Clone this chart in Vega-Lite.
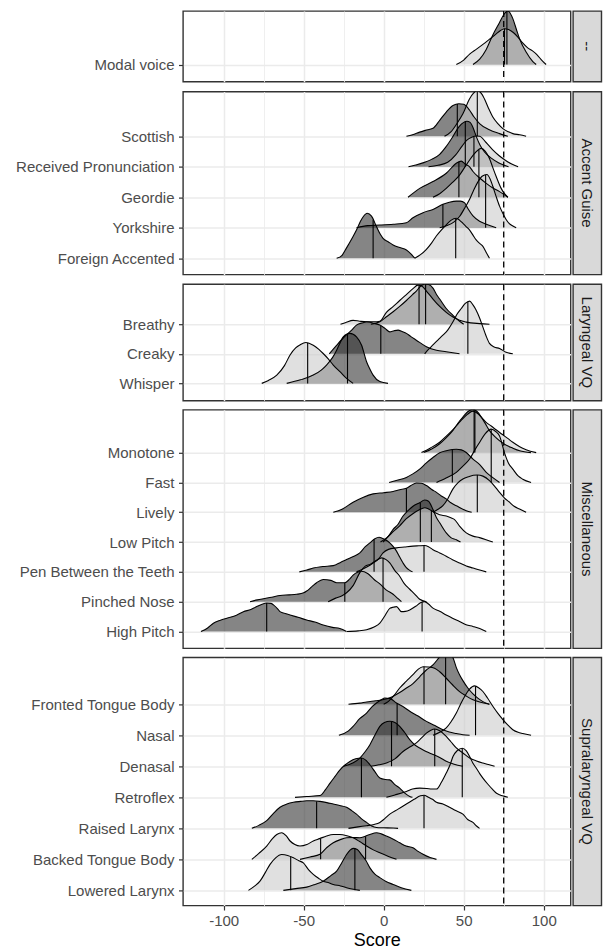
{
"$schema": "https://vega.github.io/schema/vega-lite/v6.json",
"padding": {"left": 14, "right": 4, "top": 9, "bottom": 2},
"columns": 2,
"spacing": {"row": 5.6, "column": 0},
"align": "each",
"datasets": {
"modal": [
{"label":"Modal voice","grp":"A","score":55.8,"dens":0},{"label":"Modal voice","grp":"A","score":60,"dens":0.18},{"label":"Modal voice","grp":"A","score":64,"dens":0.5},{"label":"Modal voice","grp":"A","score":68.2,"dens":1.0},{"label":"Modal voice","grp":"A","score":72.4,"dens":1.42},{"label":"Modal voice","grp":"A","score":75,"dens":1.68},{"label":"Modal voice","grp":"A","score":77.6,"dens":1.81},{"label":"Modal voice","grp":"A","score":80.7,"dens":1.55},{"label":"Modal voice","grp":"A","score":82.8,"dens":1.21},{"label":"Modal voice","grp":"A","score":84.9,"dens":0.87},{"label":"Modal voice","grp":"A","score":89,"dens":0.42},{"label":"Modal voice","grp":"A","score":93.2,"dens":0.1},{"label":"Modal voice","grp":"A","score":95.3,"dens":0},
{"label":"Modal voice","grp":"B","score":45.4,"dens":0},{"label":"Modal voice","grp":"B","score":50,"dens":0.15},{"label":"Modal voice","grp":"B","score":53.7,"dens":0.35},{"label":"Modal voice","grp":"B","score":58,"dens":0.52},{"label":"Modal voice","grp":"B","score":62,"dens":0.68},{"label":"Modal voice","grp":"B","score":66,"dens":0.85},{"label":"Modal voice","grp":"B","score":70,"dens":1.02},{"label":"Modal voice","grp":"B","score":73,"dens":1.15},{"label":"Modal voice","grp":"B","score":75.5,"dens":1.21},{"label":"Modal voice","grp":"B","score":78,"dens":1.18},{"label":"Modal voice","grp":"B","score":81,"dens":1.08},{"label":"Modal voice","grp":"B","score":84,"dens":0.92},{"label":"Modal voice","grp":"B","score":87,"dens":0.72},{"label":"Modal voice","grp":"B","score":90,"dens":0.56},{"label":"Modal voice","grp":"B","score":93,"dens":0.46},{"label":"Modal voice","grp":"B","score":96,"dens":0.32},{"label":"Modal voice","grp":"B","score":99,"dens":0.13},{"label":"Modal voice","grp":"B","score":101.5,"dens":0}
],
"modal_med": [
{"label":"Modal voice","grp":"A","score":77.0,"dens":1.8},{"label":"Modal voice","grp":"B","score":75.5,"dens":1.21}
],
"accent": [
{"label":"Scottish","grp":"A","score":14.2,"dens":0},{"label":"Scottish","grp":"A","score":18,"dens":0.05},{"label":"Scottish","grp":"A","score":22.5,"dens":0.14},{"label":"Scottish","grp":"A","score":26,"dens":0.2},{"label":"Scottish","grp":"A","score":30.8,"dens":0.27},{"label":"Scottish","grp":"A","score":35,"dens":0.54},{"label":"Scottish","grp":"A","score":39.1,"dens":0.82},{"label":"Scottish","grp":"A","score":43.3,"dens":1.04},{"label":"Scottish","grp":"A","score":47,"dens":1.1},{"label":"Scottish","grp":"A","score":50,"dens":1.08},{"label":"Scottish","grp":"A","score":53.7,"dens":0.88},{"label":"Scottish","grp":"A","score":56.5,"dens":0.65},{"label":"Scottish","grp":"A","score":59.9,"dens":0.43},{"label":"Scottish","grp":"A","score":66,"dens":0.22},{"label":"Scottish","grp":"A","score":72.4,"dens":0.09},{"label":"Scottish","grp":"A","score":77.6,"dens":0},
{"label":"Scottish","grp":"B","score":38,"dens":0},{"label":"Scottish","grp":"B","score":42,"dens":0.15},{"label":"Scottish","grp":"B","score":46,"dens":0.45},{"label":"Scottish","grp":"B","score":49.5,"dens":0.76},{"label":"Scottish","grp":"B","score":53.7,"dens":1.27},{"label":"Scottish","grp":"B","score":56,"dens":1.45},{"label":"Scottish","grp":"B","score":58.5,"dens":1.53},{"label":"Scottish","grp":"B","score":61,"dens":1.45},{"label":"Scottish","grp":"B","score":63,"dens":1.26},{"label":"Scottish","grp":"B","score":65.5,"dens":0.95},{"label":"Scottish","grp":"B","score":68.2,"dens":0.65},{"label":"Scottish","grp":"B","score":71.5,"dens":0.42},{"label":"Scottish","grp":"B","score":74.5,"dens":0.26},{"label":"Scottish","grp":"B","score":78,"dens":0.15},{"label":"Scottish","grp":"B","score":80.7,"dens":0.09},{"label":"Scottish","grp":"B","score":85,"dens":0.05},{"label":"Scottish","grp":"B","score":89,"dens":0},
{"label":"Received Pronunciation","grp":"A","score":15.5,"dens":0},{"label":"Received Pronunciation","grp":"A","score":20,"dens":0.06},{"label":"Received Pronunciation","grp":"A","score":25,"dens":0.14},{"label":"Received Pronunciation","grp":"A","score":30,"dens":0.25},{"label":"Received Pronunciation","grp":"A","score":35,"dens":0.42},{"label":"Received Pronunciation","grp":"A","score":39,"dens":0.68},{"label":"Received Pronunciation","grp":"A","score":43,"dens":1.0},{"label":"Received Pronunciation","grp":"A","score":47,"dens":1.35},{"label":"Received Pronunciation","grp":"A","score":50,"dens":1.5},{"label":"Received Pronunciation","grp":"A","score":52,"dens":1.54},{"label":"Received Pronunciation","grp":"A","score":54,"dens":1.5},{"label":"Received Pronunciation","grp":"A","score":56,"dens":1.3},{"label":"Received Pronunciation","grp":"A","score":58,"dens":1.0},{"label":"Received Pronunciation","grp":"A","score":60,"dens":0.75},{"label":"Received Pronunciation","grp":"A","score":63,"dens":0.5},{"label":"Received Pronunciation","grp":"A","score":67,"dens":0.3},{"label":"Received Pronunciation","grp":"A","score":72,"dens":0.13},{"label":"Received Pronunciation","grp":"A","score":78,"dens":0},
{"label":"Received Pronunciation","grp":"B","score":28,"dens":0},{"label":"Received Pronunciation","grp":"B","score":34,"dens":0.05},{"label":"Received Pronunciation","grp":"B","score":40,"dens":0.15},{"label":"Received Pronunciation","grp":"B","score":45,"dens":0.4},{"label":"Received Pronunciation","grp":"B","score":49,"dens":0.7},{"label":"Received Pronunciation","grp":"B","score":52,"dens":0.9},{"label":"Received Pronunciation","grp":"B","score":55,"dens":1.0},{"label":"Received Pronunciation","grp":"B","score":58,"dens":1.04},{"label":"Received Pronunciation","grp":"B","score":60,"dens":1.03},{"label":"Received Pronunciation","grp":"B","score":64,"dens":0.82},{"label":"Received Pronunciation","grp":"B","score":68,"dens":0.58},{"label":"Received Pronunciation","grp":"B","score":72,"dens":0.38},{"label":"Received Pronunciation","grp":"B","score":76,"dens":0.22},{"label":"Received Pronunciation","grp":"B","score":80,"dens":0.09},{"label":"Received Pronunciation","grp":"B","score":84,"dens":0},
{"label":"Geordie","grp":"A","score":15.2,"dens":0},{"label":"Geordie","grp":"A","score":22.5,"dens":0.3},{"label":"Geordie","grp":"A","score":30.8,"dens":0.53},{"label":"Geordie","grp":"A","score":39.1,"dens":0.81},{"label":"Geordie","grp":"A","score":45.4,"dens":1.15},{"label":"Geordie","grp":"A","score":48.5,"dens":1.22},{"label":"Geordie","grp":"A","score":51,"dens":1.12},{"label":"Geordie","grp":"A","score":53.7,"dens":1.03},{"label":"Geordie","grp":"A","score":55.8,"dens":0.87},{"label":"Geordie","grp":"A","score":60,"dens":0.65},{"label":"Geordie","grp":"A","score":64.1,"dens":0.47},{"label":"Geordie","grp":"A","score":68,"dens":0.32},{"label":"Geordie","grp":"A","score":72.4,"dens":0.19},{"label":"Geordie","grp":"A","score":77.6,"dens":0},
{"label":"Geordie","grp":"B","score":30.8,"dens":0},{"label":"Geordie","grp":"B","score":35,"dens":0.12},{"label":"Geordie","grp":"B","score":39.1,"dens":0.3},{"label":"Geordie","grp":"B","score":43,"dens":0.5},{"label":"Geordie","grp":"B","score":47.4,"dens":0.75},{"label":"Geordie","grp":"B","score":50.5,"dens":1.0},{"label":"Geordie","grp":"B","score":53.7,"dens":1.26},{"label":"Geordie","grp":"B","score":57.5,"dens":1.52},{"label":"Geordie","grp":"B","score":61,"dens":1.65},{"label":"Geordie","grp":"B","score":63.5,"dens":1.55},{"label":"Geordie","grp":"B","score":66.1,"dens":1.31},{"label":"Geordie","grp":"B","score":68.2,"dens":1.0},{"label":"Geordie","grp":"B","score":70.3,"dens":0.7},{"label":"Geordie","grp":"B","score":73.4,"dens":0.3},{"label":"Geordie","grp":"B","score":75.5,"dens":0.12},{"label":"Geordie","grp":"B","score":77.6,"dens":0},
{"label":"Yorkshire","grp":"A","score":-17,"dens":0},{"label":"Yorkshire","grp":"A","score":-10,"dens":0.07},{"label":"Yorkshire","grp":"A","score":-2.4,"dens":0.09},{"label":"Yorkshire","grp":"A","score":6,"dens":0.12},{"label":"Yorkshire","grp":"A","score":14.2,"dens":0.17},{"label":"Yorkshire","grp":"A","score":18.3,"dens":0.34},{"label":"Yorkshire","grp":"A","score":24.6,"dens":0.51},{"label":"Yorkshire","grp":"A","score":30.8,"dens":0.62},{"label":"Yorkshire","grp":"A","score":37,"dens":0.79},{"label":"Yorkshire","grp":"A","score":41,"dens":0.86},{"label":"Yorkshire","grp":"A","score":45.4,"dens":0.9},{"label":"Yorkshire","grp":"A","score":48,"dens":0.9},{"label":"Yorkshire","grp":"A","score":50.6,"dens":0.84},{"label":"Yorkshire","grp":"A","score":52.6,"dens":0.65},{"label":"Yorkshire","grp":"A","score":55.8,"dens":0.4},{"label":"Yorkshire","grp":"A","score":59.9,"dens":0.22},{"label":"Yorkshire","grp":"A","score":64.1,"dens":0.12},{"label":"Yorkshire","grp":"A","score":70.3,"dens":0},
{"label":"Yorkshire","grp":"B","score":35,"dens":0},{"label":"Yorkshire","grp":"B","score":40,"dens":0.08},{"label":"Yorkshire","grp":"B","score":44,"dens":0.2},{"label":"Yorkshire","grp":"B","score":47.4,"dens":0.38},{"label":"Yorkshire","grp":"B","score":51,"dens":0.7},{"label":"Yorkshire","grp":"B","score":53.7,"dens":0.96},{"label":"Yorkshire","grp":"B","score":56.5,"dens":1.3},{"label":"Yorkshire","grp":"B","score":58.9,"dens":1.55},{"label":"Yorkshire","grp":"B","score":61.5,"dens":1.74},{"label":"Yorkshire","grp":"B","score":64.5,"dens":1.8},{"label":"Yorkshire","grp":"B","score":66.5,"dens":1.65},{"label":"Yorkshire","grp":"B","score":68.2,"dens":1.4},{"label":"Yorkshire","grp":"B","score":70.3,"dens":1.05},{"label":"Yorkshire","grp":"B","score":72.4,"dens":0.73},{"label":"Yorkshire","grp":"B","score":74.5,"dens":0.48},{"label":"Yorkshire","grp":"B","score":76.5,"dens":0.28},{"label":"Yorkshire","grp":"B","score":78.5,"dens":0.14},{"label":"Yorkshire","grp":"B","score":80.7,"dens":0.06},{"label":"Yorkshire","grp":"B","score":82.8,"dens":0},
{"label":"Foreign Accented","grp":"A","score":-29.4,"dens":0},{"label":"Foreign Accented","grp":"A","score":-26,"dens":0.1},{"label":"Foreign Accented","grp":"A","score":-23.2,"dens":0.35},{"label":"Foreign Accented","grp":"A","score":-20,"dens":0.65},{"label":"Foreign Accented","grp":"A","score":-17,"dens":0.95},{"label":"Foreign Accented","grp":"A","score":-14.5,"dens":1.25},{"label":"Foreign Accented","grp":"A","score":-12.8,"dens":1.4},{"label":"Foreign Accented","grp":"A","score":-10.3,"dens":1.52},{"label":"Foreign Accented","grp":"A","score":-7.6,"dens":1.42},{"label":"Foreign Accented","grp":"A","score":-4.5,"dens":1.07},{"label":"Foreign Accented","grp":"A","score":-2,"dens":0.8},{"label":"Foreign Accented","grp":"A","score":-0.4,"dens":0.67},{"label":"Foreign Accented","grp":"A","score":3,"dens":0.55},{"label":"Foreign Accented","grp":"A","score":5.9,"dens":0.45},{"label":"Foreign Accented","grp":"A","score":10,"dens":0.36},{"label":"Foreign Accented","grp":"A","score":14.2,"dens":0.28},{"label":"Foreign Accented","grp":"A","score":17,"dens":0.15},{"label":"Foreign Accented","grp":"A","score":19.4,"dens":0},
{"label":"Foreign Accented","grp":"B","score":19.4,"dens":0},{"label":"Foreign Accented","grp":"B","score":23,"dens":0.12},{"label":"Foreign Accented","grp":"B","score":26.7,"dens":0.3},{"label":"Foreign Accented","grp":"B","score":30,"dens":0.52},{"label":"Foreign Accented","grp":"B","score":32.9,"dens":0.75},{"label":"Foreign Accented","grp":"B","score":36,"dens":0.95},{"label":"Foreign Accented","grp":"B","score":39.1,"dens":1.13},{"label":"Foreign Accented","grp":"B","score":42,"dens":1.28},{"label":"Foreign Accented","grp":"B","score":45.4,"dens":1.35},{"label":"Foreign Accented","grp":"B","score":47.5,"dens":1.28},{"label":"Foreign Accented","grp":"B","score":49.5,"dens":1.18},{"label":"Foreign Accented","grp":"B","score":51.5,"dens":1.07},{"label":"Foreign Accented","grp":"B","score":53.7,"dens":0.95},{"label":"Foreign Accented","grp":"B","score":55.8,"dens":0.78},{"label":"Foreign Accented","grp":"B","score":57.8,"dens":0.62},{"label":"Foreign Accented","grp":"B","score":60,"dens":0.5},{"label":"Foreign Accented","grp":"B","score":62,"dens":0.4},{"label":"Foreign Accented","grp":"B","score":64,"dens":0.2},{"label":"Foreign Accented","grp":"B","score":66.1,"dens":0}
],
"accent_med": [
{"label":"Scottish","grp":"A","score":46,"dens":1.09},{"label":"Scottish","grp":"B","score":58.5,"dens":1.53},
{"label":"Received Pronunciation","grp":"A","score":51,"dens":1.53},{"label":"Received Pronunciation","grp":"B","score":56.4,"dens":1.02},
{"label":"Geordie","grp":"A","score":47,"dens":1.2},{"label":"Geordie","grp":"B","score":59.5,"dens":1.6},
{"label":"Yorkshire","grp":"A","score":37,"dens":0.79},{"label":"Yorkshire","grp":"B","score":63.7,"dens":1.79},
{"label":"Foreign Accented","grp":"A","score":-6.6,"dens":1.3},{"label":"Foreign Accented","grp":"B","score":45,"dens":1.35}
],
"laryngeal": [
{"label":"Breathy","grp":"A","score":-8,"dens":0},{"label":"Breathy","grp":"A","score":-2.4,"dens":0.08},{"label":"Breathy","grp":"A","score":1.7,"dens":0.25},{"label":"Breathy","grp":"A","score":5.9,"dens":0.42},{"label":"Breathy","grp":"A","score":10,"dens":0.6},{"label":"Breathy","grp":"A","score":14.2,"dens":0.8},{"label":"Breathy","grp":"A","score":18,"dens":1.0},{"label":"Breathy","grp":"A","score":20.4,"dens":1.12},{"label":"Breathy","grp":"A","score":23,"dens":1.28},{"label":"Breathy","grp":"A","score":25.6,"dens":1.35},{"label":"Breathy","grp":"A","score":28,"dens":1.34},{"label":"Breathy","grp":"A","score":30.8,"dens":1.22},{"label":"Breathy","grp":"A","score":33,"dens":1.0},{"label":"Breathy","grp":"A","score":35,"dens":0.85},{"label":"Breathy","grp":"A","score":39.1,"dens":0.53},{"label":"Breathy","grp":"A","score":43.3,"dens":0.3},{"label":"Breathy","grp":"A","score":47.4,"dens":0.1},{"label":"Breathy","grp":"A","score":50,"dens":0},
{"label":"Breathy","grp":"B","score":-27,"dens":0},{"label":"Breathy","grp":"B","score":-24,"dens":0.05},{"label":"Breathy","grp":"B","score":-19.1,"dens":0.13},{"label":"Breathy","grp":"B","score":-15,"dens":0.1},{"label":"Breathy","grp":"B","score":-10.7,"dens":0.08},{"label":"Breathy","grp":"B","score":-6,"dens":0.08},{"label":"Breathy","grp":"B","score":-2.4,"dens":0.1},{"label":"Breathy","grp":"B","score":1.7,"dens":0.4},{"label":"Breathy","grp":"B","score":6,"dens":0.6},{"label":"Breathy","grp":"B","score":10,"dens":0.8},{"label":"Breathy","grp":"B","score":14.2,"dens":1.0},{"label":"Breathy","grp":"B","score":18.3,"dens":1.2},{"label":"Breathy","grp":"B","score":21.4,"dens":1.32},{"label":"Breathy","grp":"B","score":24,"dens":1.28},{"label":"Breathy","grp":"B","score":26.7,"dens":1.12},{"label":"Breathy","grp":"B","score":30.8,"dens":0.85},{"label":"Breathy","grp":"B","score":35,"dens":0.6},{"label":"Breathy","grp":"B","score":39.1,"dens":0.4},{"label":"Breathy","grp":"B","score":43.3,"dens":0.24},{"label":"Breathy","grp":"B","score":47.4,"dens":0.13},{"label":"Breathy","grp":"B","score":51.6,"dens":0.07},{"label":"Breathy","grp":"B","score":59.9,"dens":0.02},{"label":"Breathy","grp":"B","score":66.1,"dens":0},
{"label":"Creaky","grp":"A","score":-34,"dens":0},{"label":"Creaky","grp":"A","score":-30,"dens":0.25},{"label":"Creaky","grp":"A","score":-25,"dens":0.55},{"label":"Creaky","grp":"A","score":-20,"dens":0.8},{"label":"Creaky","grp":"A","score":-17,"dens":0.97},{"label":"Creaky","grp":"A","score":-13,"dens":1.05},{"label":"Creaky","grp":"A","score":-10.7,"dens":1.08},{"label":"Creaky","grp":"A","score":-6,"dens":1.03},{"label":"Creaky","grp":"A","score":-2.4,"dens":0.97},{"label":"Creaky","grp":"A","score":1,"dens":0.85},{"label":"Creaky","grp":"A","score":3.8,"dens":0.74},{"label":"Creaky","grp":"A","score":6.5,"dens":0.78},{"label":"Creaky","grp":"A","score":9,"dens":0.8},{"label":"Creaky","grp":"A","score":11.5,"dens":0.75},{"label":"Creaky","grp":"A","score":14.2,"dens":0.69},{"label":"Creaky","grp":"A","score":17,"dens":0.58},{"label":"Creaky","grp":"A","score":20.4,"dens":0.46},{"label":"Creaky","grp":"A","score":26.7,"dens":0.24},{"label":"Creaky","grp":"A","score":33,"dens":0.12},{"label":"Creaky","grp":"A","score":39.1,"dens":0.07},{"label":"Creaky","grp":"A","score":47.4,"dens":0},
{"label":"Creaky","grp":"B","score":25.6,"dens":0},{"label":"Creaky","grp":"B","score":28,"dens":0.15},{"label":"Creaky","grp":"B","score":30.8,"dens":0.3},{"label":"Creaky","grp":"B","score":34,"dens":0.47},{"label":"Creaky","grp":"B","score":37,"dens":0.63},{"label":"Creaky","grp":"B","score":40,"dens":0.8},{"label":"Creaky","grp":"B","score":43.3,"dens":1.08},{"label":"Creaky","grp":"B","score":46,"dens":1.35},{"label":"Creaky","grp":"B","score":48.5,"dens":1.53},{"label":"Creaky","grp":"B","score":51,"dens":1.7},{"label":"Creaky","grp":"B","score":53.7,"dens":1.78},{"label":"Creaky","grp":"B","score":55.8,"dens":1.65},{"label":"Creaky","grp":"B","score":57.8,"dens":1.47},{"label":"Creaky","grp":"B","score":60,"dens":1.2},{"label":"Creaky","grp":"B","score":62,"dens":0.9},{"label":"Creaky","grp":"B","score":64,"dens":0.6},{"label":"Creaky","grp":"B","score":66.1,"dens":0.35},{"label":"Creaky","grp":"B","score":69,"dens":0.23},{"label":"Creaky","grp":"B","score":72.4,"dens":0.18},{"label":"Creaky","grp":"B","score":76.5,"dens":0.05},{"label":"Creaky","grp":"B","score":80.7,"dens":0},
{"label":"Whisper","grp":"A","score":-60.6,"dens":0},{"label":"Whisper","grp":"A","score":-52,"dens":0.12},{"label":"Whisper","grp":"A","score":-44,"dens":0.28},{"label":"Whisper","grp":"A","score":-39,"dens":0.45},{"label":"Whisper","grp":"A","score":-35.7,"dens":0.62},{"label":"Whisper","grp":"A","score":-32,"dens":0.87},{"label":"Whisper","grp":"A","score":-29.4,"dens":1.12},{"label":"Whisper","grp":"A","score":-27,"dens":1.4},{"label":"Whisper","grp":"A","score":-25.3,"dens":1.57},{"label":"Whisper","grp":"A","score":-21.1,"dens":1.69},{"label":"Whisper","grp":"A","score":-17,"dens":1.57},{"label":"Whisper","grp":"A","score":-13.8,"dens":1.29},{"label":"Whisper","grp":"A","score":-10.7,"dens":0.73},{"label":"Whisper","grp":"A","score":-8.5,"dens":0.47},{"label":"Whisper","grp":"A","score":-6.6,"dens":0.28},{"label":"Whisper","grp":"A","score":-2.4,"dens":0.06},{"label":"Whisper","grp":"A","score":2.7,"dens":0},
{"label":"Whisper","grp":"B","score":-76.2,"dens":0},{"label":"Whisper","grp":"B","score":-72,"dens":0.1},{"label":"Whisper","grp":"B","score":-66.8,"dens":0.28},{"label":"Whisper","grp":"B","score":-62,"dens":0.6},{"label":"Whisper","grp":"B","score":-58.5,"dens":0.96},{"label":"Whisper","grp":"B","score":-55,"dens":1.2},{"label":"Whisper","grp":"B","score":-52.3,"dens":1.3},{"label":"Whisper","grp":"B","score":-48.6,"dens":1.38},{"label":"Whisper","grp":"B","score":-44,"dens":1.29},{"label":"Whisper","grp":"B","score":-40.5,"dens":1.15},{"label":"Whisper","grp":"B","score":-37.8,"dens":1.01},{"label":"Whisper","grp":"B","score":-34.5,"dens":0.82},{"label":"Whisper","grp":"B","score":-31.5,"dens":0.62},{"label":"Whisper","grp":"B","score":-27,"dens":0.38},{"label":"Whisper","grp":"B","score":-23.2,"dens":0.17},{"label":"Whisper","grp":"B","score":-19.1,"dens":0}
],
"laryngeal_med": [
{"label":"Breathy","grp":"A","score":26.2,"dens":1.35},{"label":"Breathy","grp":"B","score":22.1,"dens":1.31},
{"label":"Creaky","grp":"A","score":-1.8,"dens":0.95},{"label":"Creaky","grp":"B","score":52.6,"dens":1.76},
{"label":"Whisper","grp":"A","score":-22.6,"dens":1.66},{"label":"Whisper","grp":"B","score":-47.5,"dens":1.37}
],
"misc": [
{"label":"Monotone","grp":"A","score":25,"dens":0},{"label":"Monotone","grp":"A","score":30,"dens":0.12},{"label":"Monotone","grp":"A","score":35,"dens":0.3},{"label":"Monotone","grp":"A","score":39,"dens":0.5},{"label":"Monotone","grp":"A","score":43.3,"dens":0.75},{"label":"Monotone","grp":"A","score":46.5,"dens":1.0},{"label":"Monotone","grp":"A","score":49.5,"dens":1.2},{"label":"Monotone","grp":"A","score":52.5,"dens":1.38},{"label":"Monotone","grp":"A","score":55.8,"dens":1.47},{"label":"Monotone","grp":"A","score":58.5,"dens":1.38},{"label":"Monotone","grp":"A","score":61,"dens":1.2},{"label":"Monotone","grp":"A","score":63.5,"dens":0.98},{"label":"Monotone","grp":"A","score":66,"dens":0.75},{"label":"Monotone","grp":"A","score":70.3,"dens":0.5},{"label":"Monotone","grp":"A","score":75,"dens":0.3},{"label":"Monotone","grp":"A","score":80.7,"dens":0.15},{"label":"Monotone","grp":"A","score":85,"dens":0.06},{"label":"Monotone","grp":"A","score":92,"dens":0},
{"label":"Monotone","grp":"B","score":23.6,"dens":0},{"label":"Monotone","grp":"B","score":29,"dens":0.15},{"label":"Monotone","grp":"B","score":35,"dens":0.35},{"label":"Monotone","grp":"B","score":39,"dens":0.55},{"label":"Monotone","grp":"B","score":43.3,"dens":0.78},{"label":"Monotone","grp":"B","score":46.5,"dens":0.97},{"label":"Monotone","grp":"B","score":49.5,"dens":1.15},{"label":"Monotone","grp":"B","score":52.5,"dens":1.3},{"label":"Monotone","grp":"B","score":55.8,"dens":1.4},{"label":"Monotone","grp":"B","score":58.5,"dens":1.33},{"label":"Monotone","grp":"B","score":61,"dens":1.2},{"label":"Monotone","grp":"B","score":64,"dens":1.02},{"label":"Monotone","grp":"B","score":67.2,"dens":0.9},{"label":"Monotone","grp":"B","score":70,"dens":0.78},{"label":"Monotone","grp":"B","score":74,"dens":0.62},{"label":"Monotone","grp":"B","score":77.5,"dens":0.48},{"label":"Monotone","grp":"B","score":80.7,"dens":0.35},{"label":"Monotone","grp":"B","score":85,"dens":0.2},{"label":"Monotone","grp":"B","score":89,"dens":0.1},{"label":"Monotone","grp":"B","score":95.3,"dens":0},
{"label":"Fast","grp":"A","score":3.4,"dens":0},{"label":"Fast","grp":"A","score":9,"dens":0.08},{"label":"Fast","grp":"A","score":14.2,"dens":0.17},{"label":"Fast","grp":"A","score":18,"dens":0.28},{"label":"Fast","grp":"A","score":22.5,"dens":0.45},{"label":"Fast","grp":"A","score":26.5,"dens":0.65},{"label":"Fast","grp":"A","score":30.8,"dens":0.84},{"label":"Fast","grp":"A","score":35,"dens":1.0},{"label":"Fast","grp":"A","score":39.1,"dens":1.07},{"label":"Fast","grp":"A","score":42.9,"dens":1.11},{"label":"Fast","grp":"A","score":45.4,"dens":1.12},{"label":"Fast","grp":"A","score":48.5,"dens":1.1},{"label":"Fast","grp":"A","score":51.6,"dens":1.01},{"label":"Fast","grp":"A","score":55.8,"dens":0.79},{"label":"Fast","grp":"A","score":60,"dens":0.6},{"label":"Fast","grp":"A","score":64.1,"dens":0.34},{"label":"Fast","grp":"A","score":68,"dens":0.17},{"label":"Fast","grp":"A","score":72.4,"dens":0},
{"label":"Fast","grp":"B","score":33,"dens":0},{"label":"Fast","grp":"B","score":39,"dens":0.15},{"label":"Fast","grp":"B","score":45.4,"dens":0.34},{"label":"Fast","grp":"B","score":49.5,"dens":0.55},{"label":"Fast","grp":"B","score":53.7,"dens":0.79},{"label":"Fast","grp":"B","score":57,"dens":1.1},{"label":"Fast","grp":"B","score":59.9,"dens":1.35},{"label":"Fast","grp":"B","score":63.5,"dens":1.65},{"label":"Fast","grp":"B","score":67.2,"dens":1.8},{"label":"Fast","grp":"B","score":70,"dens":1.72},{"label":"Fast","grp":"B","score":72.4,"dens":1.57},{"label":"Fast","grp":"B","score":75.5,"dens":1.0},{"label":"Fast","grp":"B","score":78,"dens":0.65},{"label":"Fast","grp":"B","score":80.7,"dens":0.45},{"label":"Fast","grp":"B","score":84,"dens":0.22},{"label":"Fast","grp":"B","score":86.9,"dens":0.11},{"label":"Fast","grp":"B","score":92.1,"dens":0},
{"label":"Lively","grp":"A","score":-31.5,"dens":0},{"label":"Lively","grp":"A","score":-26,"dens":0.1},{"label":"Lively","grp":"A","score":-19.1,"dens":0.34},{"label":"Lively","grp":"A","score":-13,"dens":0.5},{"label":"Lively","grp":"A","score":-6.6,"dens":0.62},{"label":"Lively","grp":"A","score":0,"dens":0.66},{"label":"Lively","grp":"A","score":5.9,"dens":0.7},{"label":"Lively","grp":"A","score":10,"dens":0.76},{"label":"Lively","grp":"A","score":14.2,"dens":0.81},{"label":"Lively","grp":"A","score":17,"dens":0.9},{"label":"Lively","grp":"A","score":20.4,"dens":0.99},{"label":"Lively","grp":"A","score":23.5,"dens":0.98},{"label":"Lively","grp":"A","score":26.7,"dens":0.9},{"label":"Lively","grp":"A","score":30,"dens":0.77},{"label":"Lively","grp":"A","score":33,"dens":0.67},{"label":"Lively","grp":"A","score":36,"dens":0.55},{"label":"Lively","grp":"A","score":39.1,"dens":0.45},{"label":"Lively","grp":"A","score":42,"dens":0.32},{"label":"Lively","grp":"A","score":45.4,"dens":0.22},{"label":"Lively","grp":"A","score":51.6,"dens":0.05},{"label":"Lively","grp":"A","score":55,"dens":0},
{"label":"Lively","grp":"B","score":30.8,"dens":0},{"label":"Lively","grp":"B","score":34,"dens":0.1},{"label":"Lively","grp":"B","score":37,"dens":0.22},{"label":"Lively","grp":"B","score":40,"dens":0.45},{"label":"Lively","grp":"B","score":43.3,"dens":0.79},{"label":"Lively","grp":"B","score":46.5,"dens":1.0},{"label":"Lively","grp":"B","score":49.5,"dens":1.12},{"label":"Lively","grp":"B","score":53,"dens":1.2},{"label":"Lively","grp":"B","score":56,"dens":1.25},{"label":"Lively","grp":"B","score":58.5,"dens":1.26},{"label":"Lively","grp":"B","score":62,"dens":1.22},{"label":"Lively","grp":"B","score":66.1,"dens":1.07},{"label":"Lively","grp":"B","score":69,"dens":0.9},{"label":"Lively","grp":"B","score":72.4,"dens":0.67},{"label":"Lively","grp":"B","score":75.5,"dens":0.48},{"label":"Lively","grp":"B","score":78.6,"dens":0.34},{"label":"Lively","grp":"B","score":81.5,"dens":0.2},{"label":"Lively","grp":"B","score":84.9,"dens":0.11},{"label":"Lively","grp":"B","score":89,"dens":0},
{"label":"Low Pitch","grp":"A","score":-0.4,"dens":0},{"label":"Low Pitch","grp":"A","score":3,"dens":0.2},{"label":"Low Pitch","grp":"A","score":5.9,"dens":0.43},{"label":"Low Pitch","grp":"A","score":9,"dens":0.6},{"label":"Low Pitch","grp":"A","score":12.1,"dens":0.88},{"label":"Low Pitch","grp":"A","score":15,"dens":1.05},{"label":"Low Pitch","grp":"A","score":18.3,"dens":1.21},{"label":"Low Pitch","grp":"A","score":22.5,"dens":1.33},{"label":"Low Pitch","grp":"A","score":25.6,"dens":1.42},{"label":"Low Pitch","grp":"A","score":28,"dens":1.38},{"label":"Low Pitch","grp":"A","score":30.8,"dens":1.1},{"label":"Low Pitch","grp":"A","score":33,"dens":0.82},{"label":"Low Pitch","grp":"A","score":35,"dens":0.65},{"label":"Low Pitch","grp":"A","score":39.1,"dens":0.31},{"label":"Low Pitch","grp":"A","score":42,"dens":0.15},{"label":"Low Pitch","grp":"A","score":45.4,"dens":0.08},{"label":"Low Pitch","grp":"A","score":48,"dens":0},
{"label":"Low Pitch","grp":"B","score":-2,"dens":0},{"label":"Low Pitch","grp":"B","score":2,"dens":0.15},{"label":"Low Pitch","grp":"B","score":5.9,"dens":0.35},{"label":"Low Pitch","grp":"B","score":10,"dens":0.55},{"label":"Low Pitch","grp":"B","score":14,"dens":0.78},{"label":"Low Pitch","grp":"B","score":18,"dens":0.95},{"label":"Low Pitch","grp":"B","score":22,"dens":1.08},{"label":"Low Pitch","grp":"B","score":25.6,"dens":1.16},{"label":"Low Pitch","grp":"B","score":28,"dens":1.12},{"label":"Low Pitch","grp":"B","score":31,"dens":1.02},{"label":"Low Pitch","grp":"B","score":35,"dens":0.92},{"label":"Low Pitch","grp":"B","score":39.1,"dens":0.88},{"label":"Low Pitch","grp":"B","score":42,"dens":0.82},{"label":"Low Pitch","grp":"B","score":44.3,"dens":0.76},{"label":"Low Pitch","grp":"B","score":47.4,"dens":0.54},{"label":"Low Pitch","grp":"B","score":51.6,"dens":0.31},{"label":"Low Pitch","grp":"B","score":55.8,"dens":0.2},{"label":"Low Pitch","grp":"B","score":59.9,"dens":0.15},{"label":"Low Pitch","grp":"B","score":64,"dens":0.08},{"label":"Low Pitch","grp":"B","score":68.2,"dens":0},
{"label":"Pen Between the Teeth","grp":"A","score":-52.7,"dens":0},{"label":"Pen Between the Teeth","grp":"A","score":-48,"dens":0.06},{"label":"Pen Between the Teeth","grp":"A","score":-44,"dens":0.13},{"label":"Pen Between the Teeth","grp":"A","score":-38,"dens":0.18},{"label":"Pen Between the Teeth","grp":"A","score":-31.5,"dens":0.21},{"label":"Pen Between the Teeth","grp":"A","score":-27,"dens":0.32},{"label":"Pen Between the Teeth","grp":"A","score":-23.2,"dens":0.42},{"label":"Pen Between the Teeth","grp":"A","score":-19,"dens":0.52},{"label":"Pen Between the Teeth","grp":"A","score":-14.9,"dens":0.64},{"label":"Pen Between the Teeth","grp":"A","score":-11.5,"dens":0.85},{"label":"Pen Between the Teeth","grp":"A","score":-8.6,"dens":0.98},{"label":"Pen Between the Teeth","grp":"A","score":-5.5,"dens":1.12},{"label":"Pen Between the Teeth","grp":"A","score":-2.9,"dens":1.17},{"label":"Pen Between the Teeth","grp":"A","score":0.5,"dens":1.1},{"label":"Pen Between the Teeth","grp":"A","score":3.8,"dens":0.98},{"label":"Pen Between the Teeth","grp":"A","score":6,"dens":0.85},{"label":"Pen Between the Teeth","grp":"A","score":8,"dens":0.7},{"label":"Pen Between the Teeth","grp":"A","score":10,"dens":0.5},{"label":"Pen Between the Teeth","grp":"A","score":12.1,"dens":0.3},{"label":"Pen Between the Teeth","grp":"A","score":14,"dens":0.15},{"label":"Pen Between the Teeth","grp":"A","score":16.3,"dens":0.05},{"label":"Pen Between the Teeth","grp":"A","score":18,"dens":0},
{"label":"Pen Between the Teeth","grp":"B","score":-17,"dens":0},{"label":"Pen Between the Teeth","grp":"B","score":-14.9,"dens":0.05},{"label":"Pen Between the Teeth","grp":"B","score":-10,"dens":0.18},{"label":"Pen Between the Teeth","grp":"B","score":-6.6,"dens":0.3},{"label":"Pen Between the Teeth","grp":"B","score":-3,"dens":0.45},{"label":"Pen Between the Teeth","grp":"B","score":-0.4,"dens":0.64},{"label":"Pen Between the Teeth","grp":"B","score":3,"dens":0.76},{"label":"Pen Between the Teeth","grp":"B","score":8,"dens":0.81},{"label":"Pen Between the Teeth","grp":"B","score":13,"dens":0.84},{"label":"Pen Between the Teeth","grp":"B","score":18.3,"dens":0.87},{"label":"Pen Between the Teeth","grp":"B","score":22,"dens":0.88},{"label":"Pen Between the Teeth","grp":"B","score":25.6,"dens":0.89},{"label":"Pen Between the Teeth","grp":"B","score":28,"dens":0.85},{"label":"Pen Between the Teeth","grp":"B","score":30.8,"dens":0.75},{"label":"Pen Between the Teeth","grp":"B","score":35,"dens":0.64},{"label":"Pen Between the Teeth","grp":"B","score":39.1,"dens":0.53},{"label":"Pen Between the Teeth","grp":"B","score":43,"dens":0.41},{"label":"Pen Between the Teeth","grp":"B","score":47.4,"dens":0.3},{"label":"Pen Between the Teeth","grp":"B","score":51.6,"dens":0.2},{"label":"Pen Between the Teeth","grp":"B","score":55.8,"dens":0.13},{"label":"Pen Between the Teeth","grp":"B","score":60,"dens":0.06},{"label":"Pen Between the Teeth","grp":"B","score":64.1,"dens":0},
{"label":"Pinched Nose","grp":"A","score":-83.5,"dens":0},{"label":"Pinched Nose","grp":"A","score":-79,"dens":0.06},{"label":"Pinched Nose","grp":"A","score":-75.2,"dens":0.1},{"label":"Pinched Nose","grp":"A","score":-70,"dens":0.15},{"label":"Pinched Nose","grp":"A","score":-64.8,"dens":0.21},{"label":"Pinched Nose","grp":"A","score":-59,"dens":0.23},{"label":"Pinched Nose","grp":"A","score":-54.4,"dens":0.25},{"label":"Pinched Nose","grp":"A","score":-50,"dens":0.3},{"label":"Pinched Nose","grp":"A","score":-48.1,"dens":0.36},{"label":"Pinched Nose","grp":"A","score":-45,"dens":0.5},{"label":"Pinched Nose","grp":"A","score":-41.9,"dens":0.64},{"label":"Pinched Nose","grp":"A","score":-37.8,"dens":0.75},{"label":"Pinched Nose","grp":"A","score":-33,"dens":0.72},{"label":"Pinched Nose","grp":"A","score":-29.4,"dens":0.64},{"label":"Pinched Nose","grp":"A","score":-24.3,"dens":0.64},{"label":"Pinched Nose","grp":"A","score":-21.5,"dens":0.75},{"label":"Pinched Nose","grp":"A","score":-19.1,"dens":0.9},{"label":"Pinched Nose","grp":"A","score":-16,"dens":1.0},{"label":"Pinched Nose","grp":"A","score":-13.9,"dens":1.03},{"label":"Pinched Nose","grp":"A","score":-10,"dens":0.95},{"label":"Pinched Nose","grp":"A","score":-6,"dens":0.75},{"label":"Pinched Nose","grp":"A","score":-2.4,"dens":0.6},{"label":"Pinched Nose","grp":"A","score":1.5,"dens":0.4},{"label":"Pinched Nose","grp":"A","score":5.9,"dens":0.25},{"label":"Pinched Nose","grp":"A","score":9,"dens":0.1},{"label":"Pinched Nose","grp":"A","score":11.1,"dens":0},
{"label":"Pinched Nose","grp":"B","score":-34.7,"dens":0},{"label":"Pinched Nose","grp":"B","score":-30,"dens":0.12},{"label":"Pinched Nose","grp":"B","score":-26,"dens":0.2},{"label":"Pinched Nose","grp":"B","score":-23.2,"dens":0.3},{"label":"Pinched Nose","grp":"B","score":-19,"dens":0.55},{"label":"Pinched Nose","grp":"B","score":-14.9,"dens":0.98},{"label":"Pinched Nose","grp":"B","score":-11.5,"dens":1.2},{"label":"Pinched Nose","grp":"B","score":-8.6,"dens":1.26},{"label":"Pinched Nose","grp":"B","score":-5,"dens":1.38},{"label":"Pinched Nose","grp":"B","score":-1.3,"dens":1.48},{"label":"Pinched Nose","grp":"B","score":1.5,"dens":1.42},{"label":"Pinched Nose","grp":"B","score":3.8,"dens":1.31},{"label":"Pinched Nose","grp":"B","score":7,"dens":1.05},{"label":"Pinched Nose","grp":"B","score":10,"dens":0.86},{"label":"Pinched Nose","grp":"B","score":13,"dens":0.6},{"label":"Pinched Nose","grp":"B","score":16.3,"dens":0.42},{"label":"Pinched Nose","grp":"B","score":19.5,"dens":0.25},{"label":"Pinched Nose","grp":"B","score":22.5,"dens":0.08},{"label":"Pinched Nose","grp":"B","score":26.7,"dens":0},
{"label":"High Pitch","grp":"A","score":-114.2,"dens":0},{"label":"High Pitch","grp":"A","score":-110,"dens":0.12},{"label":"High Pitch","grp":"A","score":-106.4,"dens":0.28},{"label":"High Pitch","grp":"A","score":-102,"dens":0.38},{"label":"High Pitch","grp":"A","score":-98,"dens":0.45},{"label":"High Pitch","grp":"A","score":-92,"dens":0.55},{"label":"High Pitch","grp":"A","score":-87.7,"dens":0.67},{"label":"High Pitch","grp":"A","score":-83,"dens":0.74},{"label":"High Pitch","grp":"A","score":-79.3,"dens":0.84},{"label":"High Pitch","grp":"A","score":-76,"dens":0.92},{"label":"High Pitch","grp":"A","score":-73.1,"dens":0.96},{"label":"High Pitch","grp":"A","score":-70.5,"dens":0.95},{"label":"High Pitch","grp":"A","score":-68.9,"dens":0.9},{"label":"High Pitch","grp":"A","score":-66,"dens":0.75},{"label":"High Pitch","grp":"A","score":-64.8,"dens":0.67},{"label":"High Pitch","grp":"A","score":-61,"dens":0.6},{"label":"High Pitch","grp":"A","score":-58.5,"dens":0.56},{"label":"High Pitch","grp":"A","score":-53,"dens":0.47},{"label":"High Pitch","grp":"A","score":-48.1,"dens":0.39},{"label":"High Pitch","grp":"A","score":-43,"dens":0.32},{"label":"High Pitch","grp":"A","score":-37.8,"dens":0.22},{"label":"High Pitch","grp":"A","score":-32,"dens":0.14},{"label":"High Pitch","grp":"A","score":-27.4,"dens":0.1},{"label":"High Pitch","grp":"A","score":-23.2,"dens":0},
{"label":"High Pitch","grp":"B","score":-23,"dens":0},{"label":"High Pitch","grp":"B","score":-16,"dens":0.02},{"label":"High Pitch","grp":"B","score":-10.7,"dens":0.06},{"label":"High Pitch","grp":"B","score":-6,"dens":0.15},{"label":"High Pitch","grp":"B","score":-2.4,"dens":0.28},{"label":"High Pitch","grp":"B","score":1,"dens":0.55},{"label":"High Pitch","grp":"B","score":3.8,"dens":0.78},{"label":"High Pitch","grp":"B","score":6,"dens":0.82},{"label":"High Pitch","grp":"B","score":8,"dens":0.84},{"label":"High Pitch","grp":"B","score":11.1,"dens":0.67},{"label":"High Pitch","grp":"B","score":13.5,"dens":0.68},{"label":"High Pitch","grp":"B","score":16.3,"dens":0.73},{"label":"High Pitch","grp":"B","score":20,"dens":0.85},{"label":"High Pitch","grp":"B","score":23,"dens":0.97},{"label":"High Pitch","grp":"B","score":25.6,"dens":1.01},{"label":"High Pitch","grp":"B","score":28,"dens":0.93},{"label":"High Pitch","grp":"B","score":30.8,"dens":0.79},{"label":"High Pitch","grp":"B","score":35,"dens":0.68},{"label":"High Pitch","grp":"B","score":39.1,"dens":0.56},{"label":"High Pitch","grp":"B","score":43,"dens":0.45},{"label":"High Pitch","grp":"B","score":47.4,"dens":0.34},{"label":"High Pitch","grp":"B","score":51.5,"dens":0.23},{"label":"High Pitch","grp":"B","score":55.8,"dens":0.17},{"label":"High Pitch","grp":"B","score":60,"dens":0.1},{"label":"High Pitch","grp":"B","score":64.1,"dens":0}
],
"misc_med": [
{"label":"Monotone","grp":"A","score":56.5,"dens":1.46},{"label":"Monotone","grp":"B","score":57,"dens":1.38},
{"label":"Fast","grp":"A","score":42.9,"dens":1.11},{"label":"Fast","grp":"B","score":67.2,"dens":1.8},
{"label":"Lively","grp":"A","score":14.2,"dens":0.81},{"label":"Lively","grp":"B","score":58.5,"dens":1.26},
{"label":"Low Pitch","grp":"A","score":22.9,"dens":1.34},{"label":"Low Pitch","grp":"B","score":29.8,"dens":1.05},
{"label":"Pen Between the Teeth","grp":"A","score":-6,"dens":1.1},{"label":"Pen Between the Teeth","grp":"B","score":25.2,"dens":0.89},
{"label":"Pinched Nose","grp":"A","score":-24.3,"dens":0.64},{"label":"Pinched Nose","grp":"B","score":-0.4,"dens":1.46},
{"label":"High Pitch","grp":"A","score":-73.1,"dens":0.96},{"label":"High Pitch","grp":"B","score":24,"dens":0.99}
],
"supra": [
{"label":"Fronted Tongue Body","grp":"A","score":-22,"dens":0},{"label":"Fronted Tongue Body","grp":"A","score":-15,"dens":0.04},{"label":"Fronted Tongue Body","grp":"A","score":-10.7,"dens":0.08},{"label":"Fronted Tongue Body","grp":"A","score":-5,"dens":0.12},{"label":"Fronted Tongue Body","grp":"A","score":0,"dens":0.16},{"label":"Fronted Tongue Body","grp":"A","score":5,"dens":0.25},{"label":"Fronted Tongue Body","grp":"A","score":10,"dens":0.4},{"label":"Fronted Tongue Body","grp":"A","score":14.2,"dens":0.55},{"label":"Fronted Tongue Body","grp":"A","score":18.3,"dens":0.7},{"label":"Fronted Tongue Body","grp":"A","score":22.5,"dens":0.93},{"label":"Fronted Tongue Body","grp":"A","score":26.5,"dens":1.15},{"label":"Fronted Tongue Body","grp":"A","score":30.8,"dens":1.33},{"label":"Fronted Tongue Body","grp":"A","score":35,"dens":1.6},{"label":"Fronted Tongue Body","grp":"A","score":37.5,"dens":1.74},{"label":"Fronted Tongue Body","grp":"A","score":39.1,"dens":1.78},{"label":"Fronted Tongue Body","grp":"A","score":41,"dens":1.74},{"label":"Fronted Tongue Body","grp":"A","score":43.5,"dens":1.55},{"label":"Fronted Tongue Body","grp":"A","score":45.4,"dens":1.24},{"label":"Fronted Tongue Body","grp":"A","score":47.4,"dens":1.0},{"label":"Fronted Tongue Body","grp":"A","score":49.5,"dens":0.8},{"label":"Fronted Tongue Body","grp":"A","score":52.6,"dens":0.55},{"label":"Fronted Tongue Body","grp":"A","score":55.8,"dens":0.35},{"label":"Fronted Tongue Body","grp":"A","score":59,"dens":0.2},{"label":"Fronted Tongue Body","grp":"A","score":62,"dens":0.09},{"label":"Fronted Tongue Body","grp":"A","score":66,"dens":0},
{"label":"Fronted Tongue Body","grp":"B","score":0,"dens":0},{"label":"Fronted Tongue Body","grp":"B","score":3,"dens":0.1},{"label":"Fronted Tongue Body","grp":"B","score":6.5,"dens":0.3},{"label":"Fronted Tongue Body","grp":"B","score":10,"dens":0.55},{"label":"Fronted Tongue Body","grp":"B","score":14.2,"dens":0.78},{"label":"Fronted Tongue Body","grp":"B","score":18.3,"dens":1.0},{"label":"Fronted Tongue Body","grp":"B","score":21.5,"dens":1.18},{"label":"Fronted Tongue Body","grp":"B","score":24.6,"dens":1.27},{"label":"Fronted Tongue Body","grp":"B","score":28,"dens":1.26},{"label":"Fronted Tongue Body","grp":"B","score":31.8,"dens":1.22},{"label":"Fronted Tongue Body","grp":"B","score":35,"dens":1.1},{"label":"Fronted Tongue Body","grp":"B","score":39.1,"dens":0.88},{"label":"Fronted Tongue Body","grp":"B","score":43,"dens":0.66},{"label":"Fronted Tongue Body","grp":"B","score":47.4,"dens":0.43},{"label":"Fronted Tongue Body","grp":"B","score":51.5,"dens":0.28},{"label":"Fronted Tongue Body","grp":"B","score":55.8,"dens":0.15},{"label":"Fronted Tongue Body","grp":"B","score":60,"dens":0.08},{"label":"Fronted Tongue Body","grp":"B","score":66.1,"dens":0},
{"label":"Nasal","grp":"A","score":-28,"dens":0},{"label":"Nasal","grp":"A","score":-22,"dens":0.15},{"label":"Nasal","grp":"A","score":-19.1,"dens":0.3},{"label":"Nasal","grp":"A","score":-15,"dens":0.56},{"label":"Nasal","grp":"A","score":-10.7,"dens":0.75},{"label":"Nasal","grp":"A","score":-7.5,"dens":0.95},{"label":"Nasal","grp":"A","score":-4.5,"dens":1.09},{"label":"Nasal","grp":"A","score":-1.5,"dens":1.2},{"label":"Nasal","grp":"A","score":0.7,"dens":1.26},{"label":"Nasal","grp":"A","score":4,"dens":1.24},{"label":"Nasal","grp":"A","score":8,"dens":1.09},{"label":"Nasal","grp":"A","score":12,"dens":0.97},{"label":"Nasal","grp":"A","score":16.3,"dens":0.81},{"label":"Nasal","grp":"A","score":21.5,"dens":0.65},{"label":"Nasal","grp":"A","score":26.7,"dens":0.47},{"label":"Nasal","grp":"A","score":32,"dens":0.33},{"label":"Nasal","grp":"A","score":37,"dens":0.19},{"label":"Nasal","grp":"A","score":41,"dens":0.11},{"label":"Nasal","grp":"A","score":45.4,"dens":0.06},{"label":"Nasal","grp":"A","score":49.5,"dens":0.02},{"label":"Nasal","grp":"A","score":53.7,"dens":0},
{"label":"Nasal","grp":"B","score":30.8,"dens":0},{"label":"Nasal","grp":"B","score":35,"dens":0.1},{"label":"Nasal","grp":"B","score":39.1,"dens":0.25},{"label":"Nasal","grp":"B","score":42,"dens":0.45},{"label":"Nasal","grp":"B","score":45.4,"dens":0.75},{"label":"Nasal","grp":"B","score":48,"dens":1.05},{"label":"Nasal","grp":"B","score":50.6,"dens":1.31},{"label":"Nasal","grp":"B","score":53.5,"dens":1.55},{"label":"Nasal","grp":"B","score":56.8,"dens":1.67},{"label":"Nasal","grp":"B","score":59.5,"dens":1.6},{"label":"Nasal","grp":"B","score":62,"dens":1.48},{"label":"Nasal","grp":"B","score":65,"dens":1.25},{"label":"Nasal","grp":"B","score":68.2,"dens":0.98},{"label":"Nasal","grp":"B","score":71.5,"dens":0.73},{"label":"Nasal","grp":"B","score":74.5,"dens":0.53},{"label":"Nasal","grp":"B","score":77.5,"dens":0.35},{"label":"Nasal","grp":"B","score":80.7,"dens":0.19},{"label":"Nasal","grp":"B","score":84,"dens":0.1},{"label":"Nasal","grp":"B","score":86.9,"dens":0.06},{"label":"Nasal","grp":"B","score":92.1,"dens":0},
{"label":"Denasal","grp":"A","score":-25,"dens":0},{"label":"Denasal","grp":"A","score":-19,"dens":0.12},{"label":"Denasal","grp":"A","score":-14.9,"dens":0.28},{"label":"Denasal","grp":"A","score":-11.5,"dens":0.5},{"label":"Denasal","grp":"A","score":-8.6,"dens":0.73},{"label":"Denasal","grp":"A","score":-5.5,"dens":1.05},{"label":"Denasal","grp":"A","score":-2.4,"dens":1.35},{"label":"Denasal","grp":"A","score":0.5,"dens":1.48},{"label":"Denasal","grp":"A","score":3.8,"dens":1.52},{"label":"Denasal","grp":"A","score":7,"dens":1.48},{"label":"Denasal","grp":"A","score":10,"dens":1.35},{"label":"Denasal","grp":"A","score":13,"dens":1.15},{"label":"Denasal","grp":"A","score":16.3,"dens":0.9},{"label":"Denasal","grp":"A","score":19.5,"dens":0.72},{"label":"Denasal","grp":"A","score":22.5,"dens":0.62},{"label":"Denasal","grp":"A","score":26.5,"dens":0.5},{"label":"Denasal","grp":"A","score":30.8,"dens":0.4},{"label":"Denasal","grp":"A","score":35,"dens":0.3},{"label":"Denasal","grp":"A","score":39.1,"dens":0.17},{"label":"Denasal","grp":"A","score":44,"dens":0.07},{"label":"Denasal","grp":"A","score":49.5,"dens":0},
{"label":"Denasal","grp":"B","score":-8,"dens":0},{"label":"Denasal","grp":"B","score":-3,"dens":0.05},{"label":"Denasal","grp":"B","score":1.7,"dens":0.11},{"label":"Denasal","grp":"B","score":7,"dens":0.25},{"label":"Denasal","grp":"B","score":12.1,"dens":0.5},{"label":"Denasal","grp":"B","score":16.3,"dens":0.65},{"label":"Denasal","grp":"B","score":20.4,"dens":0.79},{"label":"Denasal","grp":"B","score":23.5,"dens":0.95},{"label":"Denasal","grp":"B","score":26.7,"dens":1.12},{"label":"Denasal","grp":"B","score":29.5,"dens":1.22},{"label":"Denasal","grp":"B","score":31.9,"dens":1.26},{"label":"Denasal","grp":"B","score":35,"dens":1.2},{"label":"Denasal","grp":"B","score":39.1,"dens":1.01},{"label":"Denasal","grp":"B","score":42,"dens":0.83},{"label":"Denasal","grp":"B","score":45.4,"dens":0.62},{"label":"Denasal","grp":"B","score":49.5,"dens":0.45},{"label":"Denasal","grp":"B","score":53.7,"dens":0.28},{"label":"Denasal","grp":"B","score":58,"dens":0.18},{"label":"Denasal","grp":"B","score":62,"dens":0.11},{"label":"Denasal","grp":"B","score":66,"dens":0.05},{"label":"Denasal","grp":"B","score":69.3,"dens":0},
{"label":"Retroflex","grp":"A","score":-55.4,"dens":0},{"label":"Retroflex","grp":"A","score":-48,"dens":0.03},{"label":"Retroflex","grp":"A","score":-39.8,"dens":0.06},{"label":"Retroflex","grp":"A","score":-36.5,"dens":0.25},{"label":"Retroflex","grp":"A","score":-33.5,"dens":0.48},{"label":"Retroflex","grp":"A","score":-30.5,"dens":0.7},{"label":"Retroflex","grp":"A","score":-27.3,"dens":0.93},{"label":"Retroflex","grp":"A","score":-24,"dens":1.1},{"label":"Retroflex","grp":"A","score":-21.1,"dens":1.21},{"label":"Retroflex","grp":"A","score":-17.5,"dens":1.3},{"label":"Retroflex","grp":"A","score":-13.9,"dens":1.33},{"label":"Retroflex","grp":"A","score":-11,"dens":1.25},{"label":"Retroflex","grp":"A","score":-8.6,"dens":1.1},{"label":"Retroflex","grp":"A","score":-5.5,"dens":0.87},{"label":"Retroflex","grp":"A","score":-2.4,"dens":0.65},{"label":"Retroflex","grp":"A","score":1,"dens":0.6},{"label":"Retroflex","grp":"A","score":3.8,"dens":0.59},{"label":"Retroflex","grp":"A","score":7,"dens":0.43},{"label":"Retroflex","grp":"A","score":10,"dens":0.31},{"label":"Retroflex","grp":"A","score":13,"dens":0.15},{"label":"Retroflex","grp":"A","score":16.3,"dens":0.03},{"label":"Retroflex","grp":"A","score":18,"dens":0},
{"label":"Retroflex","grp":"B","score":1.7,"dens":0},{"label":"Retroflex","grp":"B","score":7,"dens":0.08},{"label":"Retroflex","grp":"B","score":14.2,"dens":0.2},{"label":"Retroflex","grp":"B","score":18,"dens":0.28},{"label":"Retroflex","grp":"B","score":22.5,"dens":0.31},{"label":"Retroflex","grp":"B","score":27,"dens":0.3},{"label":"Retroflex","grp":"B","score":30,"dens":0.28},{"label":"Retroflex","grp":"B","score":33,"dens":0.28},{"label":"Retroflex","grp":"B","score":36,"dens":0.5},{"label":"Retroflex","grp":"B","score":39.1,"dens":0.82},{"label":"Retroflex","grp":"B","score":41.5,"dens":1.1},{"label":"Retroflex","grp":"B","score":43.3,"dens":1.38},{"label":"Retroflex","grp":"B","score":46,"dens":1.58},{"label":"Retroflex","grp":"B","score":49.1,"dens":1.66},{"label":"Retroflex","grp":"B","score":51.5,"dens":1.58},{"label":"Retroflex","grp":"B","score":53.7,"dens":1.38},{"label":"Retroflex","grp":"B","score":55.8,"dens":1.15},{"label":"Retroflex","grp":"B","score":57.8,"dens":0.99},{"label":"Retroflex","grp":"B","score":60,"dens":0.8},{"label":"Retroflex","grp":"B","score":62,"dens":0.65},{"label":"Retroflex","grp":"B","score":65,"dens":0.45},{"label":"Retroflex","grp":"B","score":68.2,"dens":0.26},{"label":"Retroflex","grp":"B","score":70.5,"dens":0.14},{"label":"Retroflex","grp":"B","score":72.4,"dens":0.09},{"label":"Retroflex","grp":"B","score":75,"dens":0.04},{"label":"Retroflex","grp":"B","score":77.6,"dens":0},
{"label":"Raised Larynx","grp":"A","score":-82.4,"dens":0},{"label":"Raised Larynx","grp":"A","score":-78,"dens":0.1},{"label":"Raised Larynx","grp":"A","score":-73.1,"dens":0.26},{"label":"Raised Larynx","grp":"A","score":-69,"dens":0.5},{"label":"Raised Larynx","grp":"A","score":-64.8,"dens":0.71},{"label":"Raised Larynx","grp":"A","score":-60.5,"dens":0.82},{"label":"Raised Larynx","grp":"A","score":-56.4,"dens":0.88},{"label":"Raised Larynx","grp":"A","score":-52,"dens":0.91},{"label":"Raised Larynx","grp":"A","score":-48.1,"dens":0.93},{"label":"Raised Larynx","grp":"A","score":-44,"dens":0.93},{"label":"Raised Larynx","grp":"A","score":-39.8,"dens":0.91},{"label":"Raised Larynx","grp":"A","score":-35.5,"dens":0.87},{"label":"Raised Larynx","grp":"A","score":-31.5,"dens":0.82},{"label":"Raised Larynx","grp":"A","score":-27.5,"dens":0.77},{"label":"Raised Larynx","grp":"A","score":-23.2,"dens":0.71},{"label":"Raised Larynx","grp":"A","score":-20,"dens":0.6},{"label":"Raised Larynx","grp":"A","score":-17,"dens":0.48},{"label":"Raised Larynx","grp":"A","score":-14,"dens":0.33},{"label":"Raised Larynx","grp":"A","score":-10.7,"dens":0.2},{"label":"Raised Larynx","grp":"A","score":-7.5,"dens":0.08},{"label":"Raised Larynx","grp":"A","score":-4.5,"dens":0.03},{"label":"Raised Larynx","grp":"A","score":0,"dens":0.02},{"label":"Raised Larynx","grp":"A","score":6,"dens":0.01},{"label":"Raised Larynx","grp":"A","score":9,"dens":0},
{"label":"Raised Larynx","grp":"B","score":-22,"dens":0},{"label":"Raised Larynx","grp":"B","score":-16,"dens":0.05},{"label":"Raised Larynx","grp":"B","score":-10.7,"dens":0.09},{"label":"Raised Larynx","grp":"B","score":-6,"dens":0.13},{"label":"Raised Larynx","grp":"B","score":-2.4,"dens":0.2},{"label":"Raised Larynx","grp":"B","score":0.5,"dens":0.32},{"label":"Raised Larynx","grp":"B","score":3.8,"dens":0.48},{"label":"Raised Larynx","grp":"B","score":9,"dens":0.65},{"label":"Raised Larynx","grp":"B","score":14.2,"dens":0.82},{"label":"Raised Larynx","grp":"B","score":19,"dens":0.98},{"label":"Raised Larynx","grp":"B","score":23,"dens":1.1},{"label":"Raised Larynx","grp":"B","score":25.2,"dens":1.12},{"label":"Raised Larynx","grp":"B","score":28,"dens":1.05},{"label":"Raised Larynx","grp":"B","score":30.5,"dens":0.98},{"label":"Raised Larynx","grp":"B","score":33,"dens":0.88},{"label":"Raised Larynx","grp":"B","score":37,"dens":0.82},{"label":"Raised Larynx","grp":"B","score":41.2,"dens":0.71},{"label":"Raised Larynx","grp":"B","score":45,"dens":0.6},{"label":"Raised Larynx","grp":"B","score":49.5,"dens":0.48},{"label":"Raised Larynx","grp":"B","score":52.5,"dens":0.3},{"label":"Raised Larynx","grp":"B","score":55.8,"dens":0.2},{"label":"Raised Larynx","grp":"B","score":58,"dens":0.08},{"label":"Raised Larynx","grp":"B","score":59.9,"dens":0},
{"label":"Backed Tongue Body","grp":"A","score":-52.3,"dens":0},{"label":"Backed Tongue Body","grp":"A","score":-46,"dens":0.08},{"label":"Backed Tongue Body","grp":"A","score":-39.8,"dens":0.17},{"label":"Backed Tongue Body","grp":"A","score":-35.5,"dens":0.4},{"label":"Backed Tongue Body","grp":"A","score":-31.5,"dens":0.56},{"label":"Backed Tongue Body","grp":"A","score":-27.4,"dens":0.66},{"label":"Backed Tongue Body","grp":"A","score":-23.2,"dens":0.73},{"label":"Backed Tongue Body","grp":"A","score":-19,"dens":0.74},{"label":"Backed Tongue Body","grp":"A","score":-14.9,"dens":0.73},{"label":"Backed Tongue Body","grp":"A","score":-11.5,"dens":0.78},{"label":"Backed Tongue Body","grp":"A","score":-8.6,"dens":0.84},{"label":"Backed Tongue Body","grp":"A","score":-4.5,"dens":0.9},{"label":"Backed Tongue Body","grp":"A","score":-1.5,"dens":0.86},{"label":"Backed Tongue Body","grp":"A","score":1.7,"dens":0.79},{"label":"Backed Tongue Body","grp":"A","score":6,"dens":0.68},{"label":"Backed Tongue Body","grp":"A","score":10,"dens":0.56},{"label":"Backed Tongue Body","grp":"A","score":14,"dens":0.45},{"label":"Backed Tongue Body","grp":"A","score":18.3,"dens":0.39},{"label":"Backed Tongue Body","grp":"A","score":21.5,"dens":0.27},{"label":"Backed Tongue Body","grp":"A","score":24.6,"dens":0.17},{"label":"Backed Tongue Body","grp":"A","score":29,"dens":0.06},{"label":"Backed Tongue Body","grp":"A","score":33,"dens":0},
{"label":"Backed Tongue Body","grp":"B","score":-82.4,"dens":0},{"label":"Backed Tongue Body","grp":"B","score":-78,"dens":0.2},{"label":"Backed Tongue Body","grp":"B","score":-73.1,"dens":0.45},{"label":"Backed Tongue Body","grp":"B","score":-69.5,"dens":0.7},{"label":"Backed Tongue Body","grp":"B","score":-66.8,"dens":0.84},{"label":"Backed Tongue Body","grp":"B","score":-63.7,"dens":0.9},{"label":"Backed Tongue Body","grp":"B","score":-61,"dens":0.8},{"label":"Backed Tongue Body","grp":"B","score":-58.5,"dens":0.62},{"label":"Backed Tongue Body","grp":"B","score":-55.5,"dens":0.5},{"label":"Backed Tongue Body","grp":"B","score":-52.3,"dens":0.45},{"label":"Backed Tongue Body","grp":"B","score":-48,"dens":0.5},{"label":"Backed Tongue Body","grp":"B","score":-44,"dens":0.62},{"label":"Backed Tongue Body","grp":"B","score":-40,"dens":0.7},{"label":"Backed Tongue Body","grp":"B","score":-35.7,"dens":0.79},{"label":"Backed Tongue Body","grp":"B","score":-31.5,"dens":0.84},{"label":"Backed Tongue Body","grp":"B","score":-27.4,"dens":0.84},{"label":"Backed Tongue Body","grp":"B","score":-23,"dens":0.8},{"label":"Backed Tongue Body","grp":"B","score":-19.1,"dens":0.73},{"label":"Backed Tongue Body","grp":"B","score":-15,"dens":0.6},{"label":"Backed Tongue Body","grp":"B","score":-10.7,"dens":0.45},{"label":"Backed Tongue Body","grp":"B","score":-6.5,"dens":0.32},{"label":"Backed Tongue Body","grp":"B","score":-2.4,"dens":0.22},{"label":"Backed Tongue Body","grp":"B","score":3,"dens":0.1},{"label":"Backed Tongue Body","grp":"B","score":8,"dens":0},
{"label":"Lowered Larynx","grp":"A","score":-62.7,"dens":0},{"label":"Lowered Larynx","grp":"A","score":-55,"dens":0.06},{"label":"Lowered Larynx","grp":"A","score":-48.1,"dens":0.11},{"label":"Lowered Larynx","grp":"A","score":-43,"dens":0.2},{"label":"Lowered Larynx","grp":"A","score":-37.8,"dens":0.31},{"label":"Lowered Larynx","grp":"A","score":-33,"dens":0.5},{"label":"Lowered Larynx","grp":"A","score":-29.4,"dens":0.65},{"label":"Lowered Larynx","grp":"A","score":-26,"dens":0.95},{"label":"Lowered Larynx","grp":"A","score":-23.2,"dens":1.21},{"label":"Lowered Larynx","grp":"A","score":-21,"dens":1.36},{"label":"Lowered Larynx","grp":"A","score":-19.1,"dens":1.42},{"label":"Lowered Larynx","grp":"A","score":-16.5,"dens":1.38},{"label":"Lowered Larynx","grp":"A","score":-13.9,"dens":1.21},{"label":"Lowered Larynx","grp":"A","score":-11,"dens":1.0},{"label":"Lowered Larynx","grp":"A","score":-8.6,"dens":0.76},{"label":"Lowered Larynx","grp":"A","score":-5.5,"dens":0.55},{"label":"Lowered Larynx","grp":"A","score":-2.4,"dens":0.43},{"label":"Lowered Larynx","grp":"A","score":1.5,"dens":0.3},{"label":"Lowered Larynx","grp":"A","score":5.9,"dens":0.2},{"label":"Lowered Larynx","grp":"A","score":11,"dens":0.09},{"label":"Lowered Larynx","grp":"A","score":17.3,"dens":0},
{"label":"Lowered Larynx","grp":"B","score":-84.5,"dens":0},{"label":"Lowered Larynx","grp":"B","score":-80.5,"dens":0.15},{"label":"Lowered Larynx","grp":"B","score":-77.3,"dens":0.31},{"label":"Lowered Larynx","grp":"B","score":-74,"dens":0.6},{"label":"Lowered Larynx","grp":"B","score":-71,"dens":0.88},{"label":"Lowered Larynx","grp":"B","score":-67.5,"dens":1.1},{"label":"Lowered Larynx","grp":"B","score":-63.7,"dens":1.21},{"label":"Lowered Larynx","grp":"B","score":-60,"dens":1.18},{"label":"Lowered Larynx","grp":"B","score":-56.4,"dens":1.1},{"label":"Lowered Larynx","grp":"B","score":-53,"dens":1.0},{"label":"Lowered Larynx","grp":"B","score":-50.2,"dens":0.93},{"label":"Lowered Larynx","grp":"B","score":-47,"dens":0.7},{"label":"Lowered Larynx","grp":"B","score":-44,"dens":0.54},{"label":"Lowered Larynx","grp":"B","score":-40.5,"dens":0.4},{"label":"Lowered Larynx","grp":"B","score":-37.8,"dens":0.31},{"label":"Lowered Larynx","grp":"B","score":-34,"dens":0.25},{"label":"Lowered Larynx","grp":"B","score":-31.5,"dens":0.2},{"label":"Lowered Larynx","grp":"B","score":-27,"dens":0.15},{"label":"Lowered Larynx","grp":"B","score":-23.2,"dens":0.09},{"label":"Lowered Larynx","grp":"B","score":-19,"dens":0.04},{"label":"Lowered Larynx","grp":"B","score":-14.9,"dens":0}
],
"supra_med": [
{"label":"Fronted Tongue Body","grp":"A","score":38.7,"dens":1.77},{"label":"Fronted Tongue Body","grp":"B","score":25.2,"dens":1.27},
{"label":"Nasal","grp":"A","score":8.4,"dens":1.08},{"label":"Nasal","grp":"B","score":57.4,"dens":1.66},
{"label":"Denasal","grp":"A","score":4.9,"dens":1.5},{"label":"Denasal","grp":"B","score":31.9,"dens":1.26},
{"label":"Retroflex","grp":"A","score":-13.9,"dens":1.33},{"label":"Retroflex","grp":"B","score":49.1,"dens":1.66},
{"label":"Raised Larynx","grp":"A","score":-41.9,"dens":0.91},{"label":"Raised Larynx","grp":"B","score":25.2,"dens":1.12},
{"label":"Backed Tongue Body","grp":"A","score":-11.3,"dens":0.78},{"label":"Backed Tongue Body","grp":"B","score":-39.4,"dens":0.7},
{"label":"Lowered Larynx","grp":"A","score":-18,"dens":1.41},{"label":"Lowered Larynx","grp":"B","score":-58.1,"dens":1.14}
]
},
"concat": [
{
"width": 387.6, "height": 70.7,
"view": {"stroke": "#333333", "strokeWidth": 1.4},
"layer": [
{"data": {"name": "modal"},
 "mark": {"type": "area", "interpolate": "monotone", "fillOpacity": 0.6, "clip": true},
 "encoding": {
  "x": {"field": "score", "type": "quantitative", "title": null, "stack": null, "scale": {"domain": [-125.4, 116.8], "nice": false, "zero": false},
        "axis": {"values": [-100,-75,-50,-25,0,25,50,75,100], "labels": false, "ticks": false, "domain": false, "minExtent": 0, "maxExtent": 0, "tickSize": 0, "labelPadding": 0, "grid": true, "gridColor": "#ebebeb", "gridWidth": {"condition": {"test": "datum.value % 50 !== 0", "value": 0.8}, "value": 1.5}}},
  "y": {"field": "label", "type": "nominal", "title": null, "scale": {"type": "point", "domain": ["Modal voice"], "padding": 1.194, "align": 0.757},
        "axis": {"grid": true, "gridColor": "#ebebeb", "gridWidth": 1.5, "domain": false, "ticks": true, "tickColor": "#333333", "tickSize": 4.5, "tickWidth": 1.2, "labelFont": "Liberation Sans", "labelFontSize": 15, "labelColor": "#4d4d4d", "labelPadding": 4.5}},
  "y2": {"field": "label"},
  "yOffset": {"field": "dens", "type": "quantitative", "scale": {"type": "linear", "domain": [0, 1], "range": [0, -29.6], "nice": false}},
  "fill": {"field": "grp", "type": "nominal", "scale": {"domain": ["A", "B"], "range": ["#333333", "#cccccc"]}, "legend": null},
  "detail": {"field": "label"}
 }},
{"data": {"name": "modal"},
 "mark": {"type": "line", "orient": "vertical", "interpolate": "monotone", "stroke": "#000000", "strokeWidth": 1.1, "clip": true},
 "encoding": {"x": {"field": "score", "type": "quantitative", "title": null, "stack": null}, "y": {"field": "label", "type": "nominal", "title": null}, "yOffset": {"field": "dens", "type": "quantitative", "scale": {"type": "linear", "domain": [0, 1], "range": [0, -29.6], "nice": false}}, "detail": [{"field": "label"}, {"field": "grp"}]}},
{"data": {"name": "modal_med"},
 "mark": {"type": "rule", "stroke": "#000000", "strokeWidth": 1.1, "clip": true},
 "encoding": {"x": {"field": "score", "type": "quantitative", "title": null, "stack": null}, "y": {"field": "label", "type": "nominal", "title": null}, "y2": {"field": "label"}, "yOffset": {"field": "dens", "type": "quantitative", "scale": {"type": "linear", "domain": [0, 1], "range": [0, -29.6], "nice": false}}}},
{"data": {"values": [{"reference": 75}]},
 "mark": {"type": "rule", "stroke": "#000000", "strokeWidth": 1.3, "strokeDash": [6, 4]},
 "encoding": {"x": {"field": "reference", "type": "quantitative", "title": null}}}
]
},
{
"width": 28.4, "height": 70.7,
"view": {"fill": "#d9d9d9", "stroke": "#333333", "strokeWidth": 1.4},
"data": {"values": [{"panel": "--"}]},
"mark": {"type": "text", "angle": 90, "font": "Liberation Sans", "fontSize": 15, "color": "#1a1a1a", "align": "center", "baseline": "middle"},
"encoding": {"text": {"field": "panel", "type": "nominal"}}
},
{
"width": 387.6, "height": 182.9,
"view": {"stroke": "#333333", "strokeWidth": 1.4},
"layer": [
{"data": {"name": "accent"},
 "mark": {"type": "area", "interpolate": "monotone", "fillOpacity": 0.6, "clip": true},
 "encoding": {
  "x": {"field": "score", "type": "quantitative", "title": null, "stack": null, "scale": {"domain": [-125.4, 116.8], "nice": false, "zero": false},
        "axis": {"values": [-100,-75,-50,-25,0,25,50,75,100], "labels": false, "ticks": false, "domain": false, "minExtent": 0, "maxExtent": 0, "tickSize": 0, "labelPadding": 0, "grid": true, "gridColor": "#ebebeb", "gridWidth": {"condition": {"test": "datum.value % 50 !== 0", "value": 0.8}, "value": 1.5}}},
  "y": {"field": "label", "type": "nominal", "title": null, "scale": {"type": "point", "domain": ["Scottish","Received Pronunciation","Geordie","Yorkshire","Foreign Accented"], "padding": 1.09, "align": 0.733},
        "axis": {"grid": true, "gridColor": "#ebebeb", "gridWidth": 1.5, "domain": false, "ticks": true, "tickColor": "#333333", "tickSize": 4.5, "tickWidth": 1.2, "labelFont": "Liberation Sans", "labelFontSize": 15, "labelColor": "#4d4d4d", "labelPadding": 4.5}},
  "y2": {"field": "label"},
  "yOffset": {"field": "dens", "type": "quantitative", "scale": {"type": "linear", "domain": [0, 1], "range": [0, -29.6], "nice": false}},
  "fill": {"field": "grp", "type": "nominal", "scale": {"domain": ["A", "B"], "range": ["#333333", "#cccccc"]}, "legend": null},
  "detail": {"field": "label"}
 }},
{"data": {"name": "accent"},
 "mark": {"type": "line", "orient": "vertical", "interpolate": "monotone", "stroke": "#000000", "strokeWidth": 1.1, "clip": true},
 "encoding": {"x": {"field": "score", "type": "quantitative", "title": null, "stack": null}, "y": {"field": "label", "type": "nominal", "title": null}, "yOffset": {"field": "dens", "type": "quantitative", "scale": {"type": "linear", "domain": [0, 1], "range": [0, -29.6], "nice": false}}, "detail": [{"field": "label"}, {"field": "grp"}]}},
{"data": {"name": "accent_med"},
 "mark": {"type": "rule", "stroke": "#000000", "strokeWidth": 1.1, "clip": true},
 "encoding": {"x": {"field": "score", "type": "quantitative", "title": null, "stack": null}, "y": {"field": "label", "type": "nominal", "title": null}, "y2": {"field": "label"}, "yOffset": {"field": "dens", "type": "quantitative", "scale": {"type": "linear", "domain": [0, 1], "range": [0, -29.6], "nice": false}}}},
{"data": {"values": [{"reference": 75}]},
 "mark": {"type": "rule", "stroke": "#000000", "strokeWidth": 1.3, "strokeDash": [6, 4]},
 "encoding": {"x": {"field": "reference", "type": "quantitative", "title": null}}}
]
},
{
"width": 28.4, "height": 182.9,
"view": {"fill": "#d9d9d9", "stroke": "#333333", "strokeWidth": 1.4},
"data": {"values": [{"panel": "Accent Guise"}]},
"mark": {"type": "text", "angle": 90, "font": "Liberation Sans", "fontSize": 15, "color": "#1a1a1a", "align": "center", "baseline": "middle"},
"encoding": {"text": {"field": "panel", "type": "nominal"}}
},
{
"width": 387.6, "height": 116.4,
"view": {"stroke": "#333333", "strokeWidth": 1.4},
"layer": [
{"data": {"name": "laryngeal"},
 "mark": {"type": "area", "interpolate": "monotone", "fillOpacity": 0.6, "clip": true},
 "encoding": {
  "x": {"field": "score", "type": "quantitative", "title": null, "stack": null, "scale": {"domain": [-125.4, 116.8], "nice": false, "zero": false},
        "axis": {"values": [-100,-75,-50,-25,0,25,50,75,100], "labels": false, "ticks": false, "domain": false, "minExtent": 0, "maxExtent": 0, "tickSize": 0, "labelPadding": 0, "grid": true, "gridColor": "#ebebeb", "gridWidth": {"condition": {"test": "datum.value % 50 !== 0", "value": 0.8}, "value": 1.5}}},
  "y": {"field": "label", "type": "nominal", "title": null, "scale": {"type": "point", "domain": ["Breathy","Creaky","Whisper"], "padding": 0.966, "align": 0.699},
        "axis": {"grid": true, "gridColor": "#ebebeb", "gridWidth": 1.5, "domain": false, "ticks": true, "tickColor": "#333333", "tickSize": 4.5, "tickWidth": 1.2, "labelFont": "Liberation Sans", "labelFontSize": 15, "labelColor": "#4d4d4d", "labelPadding": 4.5}},
  "y2": {"field": "label"},
  "yOffset": {"field": "dens", "type": "quantitative", "scale": {"type": "linear", "domain": [0, 1], "range": [0, -29.6], "nice": false}},
  "fill": {"field": "grp", "type": "nominal", "scale": {"domain": ["A", "B"], "range": ["#333333", "#cccccc"]}, "legend": null},
  "detail": {"field": "label"}
 }},
{"data": {"name": "laryngeal"},
 "mark": {"type": "line", "orient": "vertical", "interpolate": "monotone", "stroke": "#000000", "strokeWidth": 1.1, "clip": true},
 "encoding": {"x": {"field": "score", "type": "quantitative", "title": null, "stack": null}, "y": {"field": "label", "type": "nominal", "title": null}, "yOffset": {"field": "dens", "type": "quantitative", "scale": {"type": "linear", "domain": [0, 1], "range": [0, -29.6], "nice": false}}, "detail": [{"field": "label"}, {"field": "grp"}]}},
{"data": {"name": "laryngeal_med"},
 "mark": {"type": "rule", "stroke": "#000000", "strokeWidth": 1.1, "clip": true},
 "encoding": {"x": {"field": "score", "type": "quantitative", "title": null, "stack": null}, "y": {"field": "label", "type": "nominal", "title": null}, "y2": {"field": "label"}, "yOffset": {"field": "dens", "type": "quantitative", "scale": {"type": "linear", "domain": [0, 1], "range": [0, -29.6], "nice": false}}}},
{"data": {"values": [{"reference": 75}]},
 "mark": {"type": "rule", "stroke": "#000000", "strokeWidth": 1.3, "strokeDash": [6, 4]},
 "encoding": {"x": {"field": "reference", "type": "quantitative", "title": null}}}
]
},
{
"width": 28.4, "height": 116.4,
"view": {"fill": "#d9d9d9", "stroke": "#333333", "strokeWidth": 1.4},
"data": {"values": [{"panel": "Laryngeal VQ"}]},
"mark": {"type": "text", "angle": 90, "font": "Liberation Sans", "fontSize": 15, "color": "#1a1a1a", "align": "center", "baseline": "middle"},
"encoding": {"text": {"field": "panel", "type": "nominal"}}
},
{
"width": 387.6, "height": 238.5,
"view": {"stroke": "#333333", "strokeWidth": 1.4},
"layer": [
{"data": {"name": "misc"},
 "mark": {"type": "area", "interpolate": "monotone", "fillOpacity": 0.6, "clip": true},
 "encoding": {
  "x": {"field": "score", "type": "quantitative", "title": null, "stack": null, "scale": {"domain": [-125.4, 116.8], "nice": false, "zero": false},
        "axis": {"values": [-100,-75,-50,-25,0,25,50,75,100], "labels": false, "ticks": false, "domain": false, "minExtent": 0, "maxExtent": 0, "tickSize": 0, "labelPadding": 0, "grid": true, "gridColor": "#ebebeb", "gridWidth": {"condition": {"test": "datum.value % 50 !== 0", "value": 0.8}, "value": 1.5}}},
  "y": {"field": "label", "type": "nominal", "title": null, "scale": {"type": "point", "domain": ["Monotone","Fast","Lively","Low Pitch","Pen Between the Teeth","Pinched Nose","High Pitch"], "padding": 1.029, "align": 0.718},
        "axis": {"grid": true, "gridColor": "#ebebeb", "gridWidth": 1.5, "domain": false, "ticks": true, "tickColor": "#333333", "tickSize": 4.5, "tickWidth": 1.2, "labelFont": "Liberation Sans", "labelFontSize": 15, "labelColor": "#4d4d4d", "labelPadding": 4.5}},
  "y2": {"field": "label"},
  "yOffset": {"field": "dens", "type": "quantitative", "scale": {"type": "linear", "domain": [0, 1], "range": [0, -29.6], "nice": false}},
  "fill": {"field": "grp", "type": "nominal", "scale": {"domain": ["A", "B"], "range": ["#333333", "#cccccc"]}, "legend": null},
  "detail": {"field": "label"}
 }},
{"data": {"name": "misc"},
 "mark": {"type": "line", "orient": "vertical", "interpolate": "monotone", "stroke": "#000000", "strokeWidth": 1.1, "clip": true},
 "encoding": {"x": {"field": "score", "type": "quantitative", "title": null, "stack": null}, "y": {"field": "label", "type": "nominal", "title": null}, "yOffset": {"field": "dens", "type": "quantitative", "scale": {"type": "linear", "domain": [0, 1], "range": [0, -29.6], "nice": false}}, "detail": [{"field": "label"}, {"field": "grp"}]}},
{"data": {"name": "misc_med"},
 "mark": {"type": "rule", "stroke": "#000000", "strokeWidth": 1.1, "clip": true},
 "encoding": {"x": {"field": "score", "type": "quantitative", "title": null, "stack": null}, "y": {"field": "label", "type": "nominal", "title": null}, "y2": {"field": "label"}, "yOffset": {"field": "dens", "type": "quantitative", "scale": {"type": "linear", "domain": [0, 1], "range": [0, -29.6], "nice": false}}}},
{"data": {"values": [{"reference": 75}]},
 "mark": {"type": "rule", "stroke": "#000000", "strokeWidth": 1.3, "strokeDash": [6, 4]},
 "encoding": {"x": {"field": "reference", "type": "quantitative", "title": null}}}
]
},
{
"width": 28.4, "height": 238.5,
"view": {"fill": "#d9d9d9", "stroke": "#333333", "strokeWidth": 1.4},
"data": {"values": [{"panel": "Miscellaneous"}]},
"mark": {"type": "text", "angle": 90, "font": "Liberation Sans", "fontSize": 15, "color": "#1a1a1a", "align": "center", "baseline": "middle"},
"encoding": {"text": {"field": "panel", "type": "nominal"}}
},
{
"width": 387.6, "height": 248.1,
"view": {"stroke": "#333333", "strokeWidth": 1.4},
"layer": [
{"data": {"name": "supra"},
 "mark": {"type": "area", "interpolate": "monotone", "fillOpacity": 0.6, "clip": true},
 "encoding": {
  "x": {"field": "score", "type": "quantitative", "title": "Score", "stack": null, "scale": {"domain": [-125.4, 116.8], "nice": false, "zero": false},
        "axis": {"values": [-100,-75,-50,-25,0,25,50,75,100], "labelExpr": "datum.value % 50 === 0 ? '' + datum.value : ''", "domain": false, "ticks": true, "tickColor": "#333333", "tickSize": 4.5, "tickWidth": 1.2, "tickOpacity": {"condition": {"test": "datum.value % 50 !== 0", "value": 0}, "value": 1}, "grid": true, "gridColor": "#ebebeb", "gridWidth": {"condition": {"test": "datum.value % 50 !== 0", "value": 0.8}, "value": 1.5}, "labelFont": "Liberation Sans", "labelFontSize": 15, "labelColor": "#4d4d4d", "labelPadding": 3, "titleFont": "Liberation Sans", "titleFontSize": 18, "titleFontWeight": "normal", "titleColor": "#000000", "titlePadding": 3}},
  "y": {"field": "label", "type": "nominal", "title": null, "scale": {"type": "point", "domain": ["Fronted Tongue Body","Nasal","Denasal","Retroflex","Raised Larynx","Backed Tongue Body","Lowered Larynx"], "padding": 1.191, "align": 0.756},
        "axis": {"grid": true, "gridColor": "#ebebeb", "gridWidth": 1.5, "domain": false, "ticks": true, "tickColor": "#333333", "tickSize": 4.5, "tickWidth": 1.2, "labelFont": "Liberation Sans", "labelFontSize": 15, "labelColor": "#4d4d4d", "labelPadding": 4.5}},
  "y2": {"field": "label"},
  "yOffset": {"field": "dens", "type": "quantitative", "scale": {"type": "linear", "domain": [0, 1], "range": [0, -29.6], "nice": false}},
  "fill": {"field": "grp", "type": "nominal", "scale": {"domain": ["A", "B"], "range": ["#333333", "#cccccc"]}, "legend": null},
  "detail": {"field": "label"}
 }},
{"data": {"name": "supra"},
 "mark": {"type": "line", "orient": "vertical", "interpolate": "monotone", "stroke": "#000000", "strokeWidth": 1.1, "clip": true},
 "encoding": {"x": {"field": "score", "type": "quantitative", "title": "Score", "stack": null}, "y": {"field": "label", "type": "nominal", "title": null}, "yOffset": {"field": "dens", "type": "quantitative", "scale": {"type": "linear", "domain": [0, 1], "range": [0, -29.6], "nice": false}}, "detail": [{"field": "label"}, {"field": "grp"}]}},
{"data": {"name": "supra_med"},
 "mark": {"type": "rule", "stroke": "#000000", "strokeWidth": 1.1, "clip": true},
 "encoding": {"x": {"field": "score", "type": "quantitative", "title": "Score", "stack": null}, "y": {"field": "label", "type": "nominal", "title": null}, "y2": {"field": "label"}, "yOffset": {"field": "dens", "type": "quantitative", "scale": {"type": "linear", "domain": [0, 1], "range": [0, -29.6], "nice": false}}}},
{"data": {"values": [{"reference": 75}]},
 "mark": {"type": "rule", "stroke": "#000000", "strokeWidth": 1.3, "strokeDash": [6, 4]},
 "encoding": {"x": {"field": "reference", "type": "quantitative", "title": "Score"}}}
]
},
{
"width": 28.4, "height": 248.1,
"view": {"fill": "#d9d9d9", "stroke": "#333333", "strokeWidth": 1.4},
"data": {"values": [{"panel": "Supralaryngeal VQ"}]},
"mark": {"type": "text", "angle": 90, "font": "Liberation Sans", "fontSize": 15, "color": "#1a1a1a", "align": "center", "baseline": "middle"},
"encoding": {"text": {"field": "panel", "type": "nominal"}}
}
],
"config": {"font": "Liberation Sans", "view": {"stroke": null}}
}
